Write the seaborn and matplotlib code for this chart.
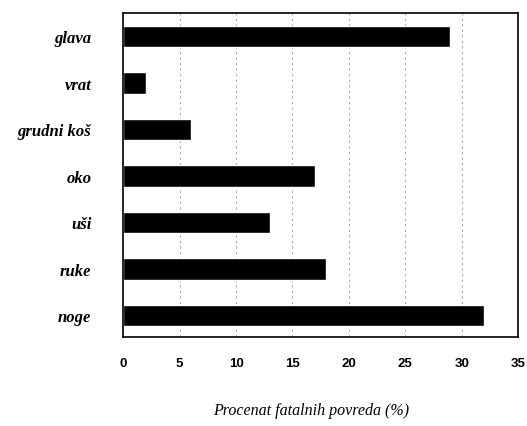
import pandas as pd
import seaborn as sns
import matplotlib.pyplot as plt

# procenat fatalnih povreda po delu tela
delovi = ["glava", "vrat", "grudni koš", "oko", "uši", "ruke", "noge"]
procenat = [29, 2, 6, 17, 13, 18, 32]
x_ticks = [0, 5, 10, 15, 20, 25, 30, 35]

data = pd.DataFrame({"deo": delovi, "procenat": procenat})

sns.set_style("white")
fig = plt.figure(figsize=(5.27, 4.27), dpi=100)
ax = fig.add_axes([0.234, 0.208, 0.749, 0.759])

sns.barplot(data=data, x="procenat", y="deo", orient="h", color="black",
            width=0.46, saturation=1, ax=ax)

ax.set_xlim(0, 35)
ax.set_ylim(6.47, -0.5)
ax.set_xticks(x_ticks)
ax.set_xticklabels([str(t) for t in x_ticks], fontfamily="Liberation Sans",
                   fontweight="bold", fontsize=9.5, color="black")
ax.set_yticklabels(delovi, fontfamily="Liberation Serif", fontstyle="italic",
                   fontweight="bold", fontsize=12, color="black")
ax.tick_params(axis="x", length=0, pad=14)
ax.tick_params(axis="y", length=0, pad=23)

# tackaste vertikalne linije
for t in x_ticks[1:-1]:
    ax.axvline(t, color="#aaaaaa", lw=0.8, ls=(0, (2, 3)), zorder=0)

for s in ax.spines.values():
    s.set_visible(True)
    s.set_color("black")
    s.set_linewidth(1.2)

ax.set_ylabel("")
ax.set_xlabel("Procenat fatalnih povreda (%)", fontfamily="Liberation Serif",
              fontstyle="italic", fontsize=11.5, color="black")
ax.xaxis.set_label_coords(0.476, -0.2)

fig.savefig("out.png", dpi=100)
